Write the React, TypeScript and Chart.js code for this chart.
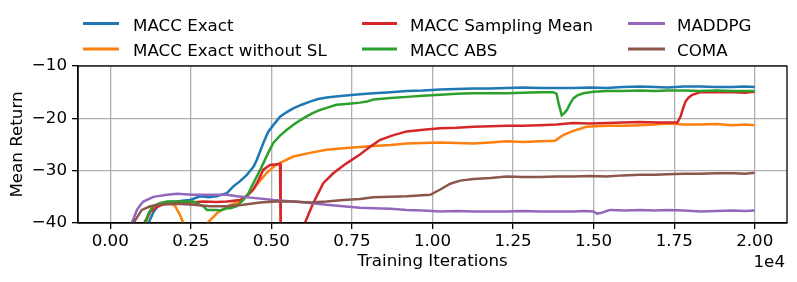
import React, { useEffect, useRef } from "react";
import { Chart, registerables } from "chart.js";

Chart.register(...registerables);

const FONT = "'DejaVu Sans', 'Liberation Sans', sans-serif";
const FONT_SIZE = 16.7;

const seriesNames = ["MACC Exact", "MACC Exact without SL", "MACC Sampling Mean", "MACC ABS", "MADDPG", "COMA"];
const seriesColors = ["#1f77b4", "#ff7f0e", "#d62728", "#2ca02c", "#9467bd", "#8c564b"];

const xTickValues = [0, 2500, 5000, 7500, 10000, 12500, 15000, 17500, 20000];
const yTickValues = [-40, -30, -20, -10];
const xAxisTitle = "Training Iterations";
const yAxisTitle = "Mean Return";
const xOffsetLabel = "1e4";

const exactX = [1000, 1190, 1350, 1550, 1800, 2070, 2300, 2480, 2790, 3050, 3300, 3620, 3820, 4030, 4240, 4450, 4550, 4750, 4900, 5060, 5270, 5480, 5680, 5940, 6200, 6450, 6710, 7230, 7750, 8170, 8700, 9200, 9700, 10240, 10750, 11270, 11800, 12300, 12800, 13340, 13850, 14370, 14900, 15400, 15900, 16440, 16900, 17300, 17800, 18300, 18800, 19300, 19700, 20000];
const exactY = [-42, -40, -37.8, -36.2, -36.0, -35.9, -35.7, -35.6, -34.9, -35.1, -34.9, -34.3, -33.0, -32.0, -30.8, -29.2, -27.9, -24.7, -22.6, -21.3, -19.7, -18.8, -18.1, -17.4, -16.8, -16.3, -16.0, -15.7, -15.4, -15.2, -15.0, -14.8, -14.7, -14.5, -14.4, -14.3, -14.3, -14.2, -14.1, -14.2, -14.2, -14.2, -14.1, -14.2, -14.0, -13.9, -14.0, -14.1, -13.9, -13.9, -14.0, -14.0, -13.9, -14.0];

const noSlX = [900, 1100, 1300, 1500, 1750, 2000, 2150, 2270, 2300, 2950, 3010, 3320, 3620, 4030, 4440, 4650, 4860, 5060, 5270, 5680, 6200, 6710, 7230, 7750, 8170, 8700, 9200, 9700, 10240, 10750, 11270, 11800, 12300, 12800, 13340, 13800, 14060, 14370, 14780, 15400, 15900, 16440, 16900, 17287, 17800, 18300, 18800, 19300, 19700, 20000];
const noSlY = [-42, -40, -37.0, -36.3, -36.1, -36.6, -38.3, -40, -42, -42, -40, -38.1, -36.8, -35.9, -33.6, -31.9, -30.4, -29.3, -28.5, -27.3, -26.6, -26.0, -25.7, -25.5, -25.3, -25.1, -24.8, -24.7, -24.6, -24.7, -24.8, -24.6, -24.4, -24.5, -24.4, -24.3, -23.2, -22.4, -21.6, -21.4, -21.4, -21.3, -21.2, -21.0, -21.2, -21.2, -21.1, -21.3, -21.2, -21.3];

const samplingX = [900, 1050, 1250, 1460, 1750, 2070, 2500, 2890, 3300, 3620, 4030, 4250, 4440, 4600, 4750, 4960, 5270, 5290, 6000, 6040, 6300, 6610, 6920, 7330, 7750, 8070, 8380, 8790, 9200, 9720, 10240, 10750, 11270, 11800, 12300, 12800, 13340, 13850, 14370, 14900, 15400, 15900, 16440, 17000, 17600, 17700, 17780, 17850, 17950, 18060, 18320, 18800, 19350, 19700, 20000];
const samplingY = [-42, -40, -37.8, -36.9, -36.2, -36.0, -36.1, -35.9, -36.0, -35.9, -35.6, -34.8, -33.6, -31.8, -29.8, -28.9, -28.7, -45, -45, -40, -36.2, -32.4, -30.5, -28.6, -26.9, -25.4, -24.1, -23.2, -22.5, -22.2, -21.9, -21.8, -21.6, -21.5, -21.4, -21.4, -21.3, -21.2, -20.9, -21.0, -20.9, -20.8, -20.7, -20.8, -20.8, -19.6, -18.0, -16.8, -16.0, -15.5, -15.0, -15.0, -15.0, -15.1, -14.9];

const absX = [900, 1085, 1200, 1340, 1550, 1760, 2070, 2580, 2800, 2890, 3000, 3300, 3420, 3620, 3730, 3930, 4130, 4300, 4440, 4600, 4750, 4900, 5060, 5270, 5480, 5740, 5990, 6250, 6510, 6760, 7020, 7400, 7750, 7960, 8170, 8700, 9200, 9700, 10240, 10750, 11270, 11800, 12300, 12800, 13340, 13750, 13850, 13910, 14010, 14090, 14170, 14270, 14370, 14500, 14680, 15000, 15400, 15900, 16440, 16900, 17287, 17800, 18300, 18800, 19300, 19700, 20000];
const absY = [-42, -40, -38.0, -36.7, -36.2, -35.9, -35.9, -35.9, -36.6, -36.8, -37.5, -37.5, -37.6, -37.2, -37.2, -36.8, -35.6, -34.2, -32.4, -30.5, -28.6, -26.6, -24.7, -23.3, -22.2, -21.0, -20.0, -19.1, -18.4, -17.9, -17.4, -17.2, -17.0, -16.8, -16.4, -16.1, -15.9, -15.7, -15.5, -15.3, -15.2, -15.2, -15.2, -15.1, -15.0, -15.0, -15.3, -17.1, -19.4, -19.0, -18.4, -17.2, -16.2, -15.6, -15.2, -14.9, -14.8, -14.8, -14.7, -14.8, -14.7, -14.7, -14.8, -14.7, -14.8, -14.8, -14.8];

const maddpgX = [500, 670, 830, 930, 1030, 1240, 1340, 1760, 2070, 2580, 3100, 3620, 3930, 4440, 5060, 5680, 6200, 6710, 7230, 7750, 8170, 8700, 9200, 9700, 10240, 10750, 11270, 11800, 12300, 12800, 13340, 13850, 14370, 14700, 14990, 15100, 15217, 15400, 15520, 16000, 16440, 16900, 17287, 17800, 18322, 18800, 19300, 19700, 20000];
const maddpgY = [-43, -40, -37.5, -36.6, -35.9, -35.3, -35.0, -34.6, -34.4, -34.6, -34.6, -34.6, -34.9, -35.2, -35.6, -35.9, -36.2, -36.5, -36.8, -37.1, -37.2, -37.3, -37.5, -37.6, -37.8, -37.7, -37.8, -37.8, -37.8, -37.7, -37.8, -37.8, -37.8, -37.7, -37.8, -38.2, -38.1, -37.7, -37.5, -37.6, -37.5, -37.6, -37.5, -37.6, -37.8, -37.7, -37.6, -37.7, -37.6];

const comaX = [500, 720, 980, 1240, 1550, 2070, 2580, 3100, 3620, 4130, 4650, 5170, 5680, 6200, 6710, 7230, 7750, 8170, 8700, 9200, 9930, 10240, 10550, 10860, 11270, 11800, 12300, 12800, 13340, 13850, 14370, 14900, 15400, 15900, 16440, 16900, 17287, 17800, 18300, 18800, 19350, 19700, 20000];
const comaY = [-43, -40, -37.5, -36.8, -36.5, -36.3, -36.5, -36.8, -36.8, -36.5, -36.1, -35.9, -35.9, -36.1, -35.9, -35.6, -35.4, -35.1, -35.0, -34.9, -34.6, -33.6, -32.5, -31.9, -31.6, -31.4, -31.1, -31.2, -31.2, -31.1, -31.1, -31.0, -31.1, -30.9, -30.8, -30.8, -30.7, -30.6, -30.6, -30.5, -30.5, -30.6, -30.4];

const seriesX = [exactX, noSlX, samplingX, absX, maddpgX, comaX];
const seriesY = [exactY, noSlY, samplingY, absY, maddpgY, comaY];

const fmtMinus = (v: number) => String(v).replace("-", "\u2212");

export default function App() {
  const canvasRef = useRef<HTMLCanvasElement | null>(null);

  useEffect(() => {
    const canvas = canvasRef.current;
    if (!canvas) return;
    const W = 797;
    const H = 282;
    const area = { left: 78, top: 66, right: 787, bottom: 223 };

    const framePlugin = {
      id: "frame",
      afterDraw(chart: any) {
        const { ctx, chartArea } = chart;
        ctx.save();
        ctx.strokeStyle = "#000";
        ctx.lineWidth = 1.3;
        ctx.strokeRect(chartArea.left, chartArea.top, chartArea.right - chartArea.left, chartArea.bottom - chartArea.top);
        ctx.fillStyle = "#000";
        ctx.font = `${FONT_SIZE}px ${FONT}`;
        ctx.textAlign = "right";
        ctx.textBaseline = "alphabetic";
        ctx.fillText(xOffsetLabel, 785, 266.7);
        // legend
        const cols = [
          { lx0: 83, lx1: 119, tx: 133 },
          { lx0: 362, lx1: 397, tx: 410 },
          { lx0: 628, lx1: 665, tx: 677 },
        ];
        const rows = [
          { ly: 23.5, ty: 30.7 },
          { ly: 49, ty: 55.7 },
        ];
        ctx.textAlign = "left";
        seriesNames.forEach((name, i) => {
          const c = cols[Math.floor(i / 2)];
          const r = rows[i % 2];
          ctx.strokeStyle = seriesColors[i];
          ctx.lineWidth = 2.8;
          ctx.beginPath();
          ctx.moveTo(c.lx0, r.ly);
          ctx.lineTo(c.lx1, r.ly);
          ctx.stroke();
          ctx.fillStyle = "#000";
          ctx.fillText(name, c.tx, r.ty);
        });
        ctx.restore();
      },
    };

    const datasets = seriesNames.map((name, i) => ({
      label: name,
      data: seriesX[i].map((x, j) => ({ x, y: seriesY[i][j] })),
      borderColor: seriesColors[i],
      backgroundColor: seriesColors[i],
      borderWidth: 2.5,
      pointRadius: 0,
      tension: 0,
      fill: false,
      clip: 0,
      order: seriesNames.length - i,
    }));

    const chart = new Chart(canvas, {
      type: "line",
      data: { datasets },
      options: {
        animation: false,
        responsive: false,
        devicePixelRatio: 1,
        layout: { padding: { top: area.top, right: W - area.right, bottom: 0, left: 0 } },
        plugins: { legend: { display: false }, tooltip: { enabled: false } },
        font: { family: FONT, size: FONT_SIZE },
        scales: {
          x: {
            type: "linear",
            min: -1000,
            max: 21000,
            afterBuildTicks: (axis: any) => {
              axis.ticks = xTickValues.map((v) => ({ value: v }));
            },
            afterFit: (scale: any) => {
              scale.height = H - area.bottom;
            },
            ticks: {
              autoSkip: false,
              maxRotation: 0,
              padding: 3,
              color: "#000",
              font: { family: FONT, size: FONT_SIZE },
              callback: (v: any) => (Number(v) / 10000).toFixed(2),
            },
            grid: { color: "#b0b0b0", lineWidth: 1.3, tickColor: "#000", tickLength: 6, tickWidth: 1.3 },
            border: { display: true, color: "#000", width: 1.3 },
            title: {
              display: true,
              text: xAxisTitle,
              color: "#000",
              font: { family: FONT, size: FONT_SIZE },
              padding: { top: 0, bottom: 10 },
            },
          },
          y: {
            type: "linear",
            min: -40,
            max: -10,
            afterBuildTicks: (axis: any) => {
              axis.ticks = yTickValues.map((v) => ({ value: v }));
            },
            afterFit: (scale: any) => {
              scale.width = area.left;
            },
            ticks: {
              autoSkip: false,
              padding: 5,
              color: "#000",
              font: { family: FONT, size: FONT_SIZE },
              callback: (v: any) => fmtMinus(Number(v)),
            },
            grid: { color: "#b0b0b0", lineWidth: 1.3, tickColor: "#000", tickLength: 6, tickWidth: 1.3 },
            border: { display: true, color: "#000", width: 1.3 },
            title: {
              display: true,
              text: yAxisTitle,
              color: "#000",
              font: { family: FONT, size: FONT_SIZE },
              padding: { top: 8, bottom: 0 },
            },
          },
        },
      } as any,
      plugins: [framePlugin],
    });

    return () => chart.destroy();
  }, []);

  return (
    <div style={{ position: "absolute", left: 0, top: 0, width: 797, height: 282, background: "#fff" }}>
      <canvas ref={canvasRef} width={797} height={282} style={{ display: "block" }} />
    </div>
  );
}
